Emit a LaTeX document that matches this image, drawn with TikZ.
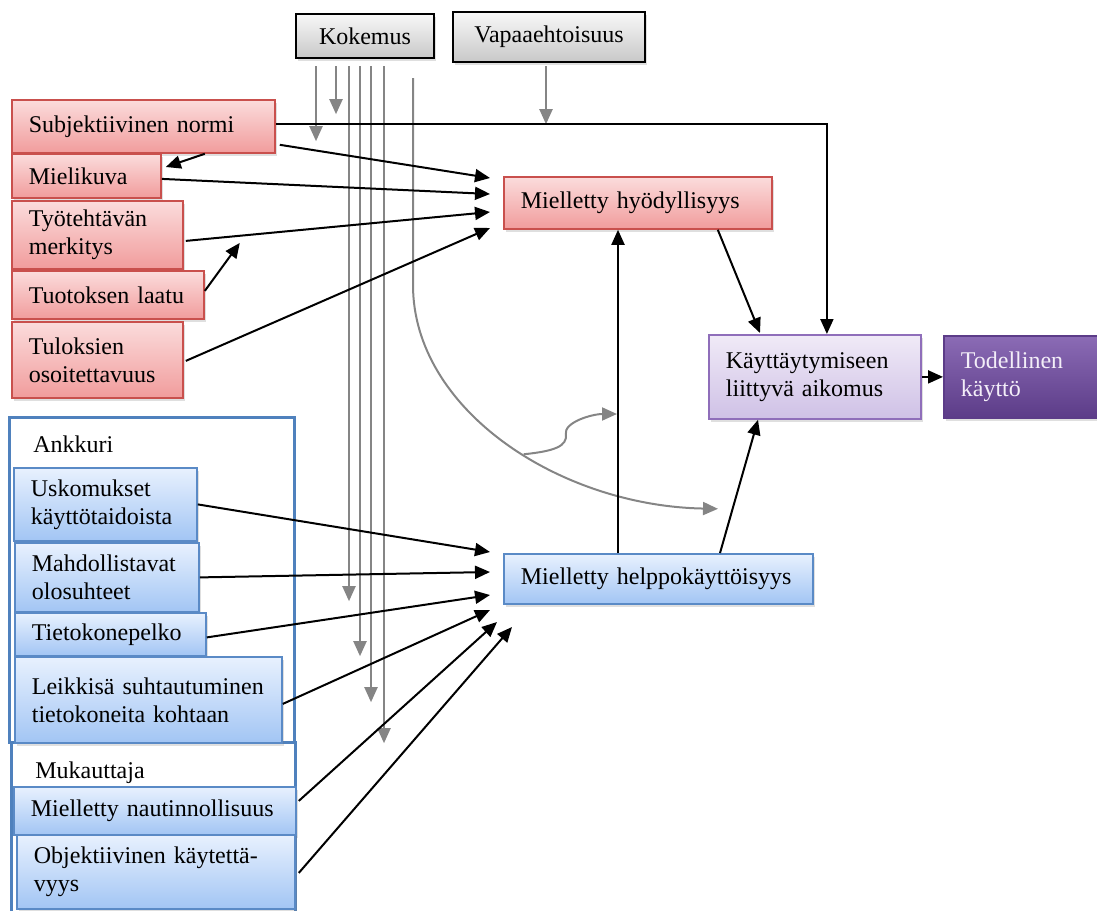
\documentclass[tikz,border=0pt]{standalone}
\usepackage{fontspec}
\setmainfont{Liberation Serif}
\usepackage{xcolor}
\usepackage{tikz}
\usetikzlibrary{arrows.meta,calc,shadows}
\definecolor{TamRedTop}{HTML}{FBDCDC}
\definecolor{TamRedBot}{HTML}{F19C9C}
\definecolor{TamRedEdge}{HTML}{C9504D}
\definecolor{TamGreyTop}{HTML}{F8F8F8}
\definecolor{TamGreyBot}{HTML}{C8C8C8}
\definecolor{TamBlueTop}{HTML}{E8F1FE}
\definecolor{TamBlueBot}{HTML}{A2C5F4}
\definecolor{TamBlueEdge}{HTML}{5A8AC6}
\definecolor{TamGroup}{HTML}{4F81BD}
\definecolor{TamLilacTop}{HTML}{F0EAF7}
\definecolor{TamLilacBot}{HTML}{CFC1E6}
\definecolor{TamLilacEdge}{HTML}{8F6EBA}
\definecolor{TamPlumTop}{HTML}{8B6BB5}
\definecolor{TamPlumBot}{HTML}{5C3C88}
\definecolor{TamPlumText}{HTML}{F3EEF8}
\definecolor{TamArrow}{HTML}{858585}

\begin{document}
\begin{tikzpicture}[x=0.5pt,y=-0.5pt,
  box/.style={rectangle,anchor=north west,align=left,inner xsep=8.5pt,
    inner ysep=0pt,line width=0.9pt,font=\fontsize{12}{14}\selectfont,
    drop shadow={opacity=0.25,shadow xshift=1pt,shadow yshift=-1.5pt}},
  redbox/.style={box,draw=TamRedEdge,top color=TamRedTop,bottom color=TamRedBot},
  bluebox/.style={box,draw=TamBlueEdge,top color=TamBlueTop,bottom color=TamBlueBot},
  lilacbox/.style={box,draw=TamLilacEdge,top color=TamLilacTop,bottom color=TamLilacBot},
  plumbox/.style={box,draw=TamPlumBot,top color=TamPlumTop,bottom color=TamPlumBot,
    text=TamPlumText},
  greybox/.style={box,anchor=center,align=center,draw=black,line width=1.2pt,
    top color=TamGreyTop,bottom color=TamGreyBot},
  grpframe/.style={draw=TamGroup,line width=1.5pt,fill=white},
  grplabel/.style={anchor=base west,inner sep=0pt,font=\fontsize{12}{14}\selectfont},
  blk/.style={-{Triangle[length=7.5pt,width=6.5pt]},line width=1pt},
  gry/.style={-{Triangle[length=7.5pt,width=6.5pt]},line width=1pt,TamArrow}]
  \useasboundingbox (0,0) rectangle (1097,910);

  % Top factors.
  \node[greybox,minimum width=69pt,minimum height=22pt] (kok) at (365,36) {Kokemus};
  \node[greybox,minimum width=96pt,minimum height=25pt] (vap) at (549,37) {Vapaaehtoisuus};

  % Group frames.
  \draw[grpframe] (9,417) rectangle (294,742);
  \node[grplabel] (ankl) at (33,452) {Ankkuri};
  \draw[grpframe] (11,742) rectangle (295,915);
  \node[grplabel] (mukl) at (35,778) {Mukauttaja};

  % Red factors.
  \node[redbox,text width=114.5pt,minimum height=26.5pt] (subj) at (11,99) {Subjektiivinen normi};
  \node[redbox,text width=57.5pt,minimum height=22pt] (miel) at (11,153) {Mielikuva};
  \node[redbox,text width=68.5pt,minimum height=34pt] (tyo) at (11,200) {Työtehtävän\\merkitys};
  \node[redbox,text width=79pt,minimum height=24pt] (tuot) at (11,270) {Tuotoksen laatu};
  \node[redbox,text width=68.5pt,minimum height=38pt] (tulos) at (11,321) {Tuloksien\\osoitettavuus};
  \node[redbox,text width=117pt,minimum height=26pt] (hyod) at (503,176) {Mielletty hyödyllisyys};

  % Intention and use.
  \node[lilacbox,text width=89pt,minimum height=42pt] (aik) at (708,334) {Käyttäytymiseen\\liittyvä aikomus};
  \node[plumbox,text width=61.5pt,minimum height=41pt] (tod) at (943,335) {Todellinen\\käyttö\vphantom{g}\\[-6pt]};

  % Blue factors.
  \node[bluebox,text width=74.5pt,minimum height=36.5pt] (usk) at (13,467) {Uskomukset\\käyttötaidoista};
  \node[bluebox,text width=75pt,minimum height=34.5pt] (mahd) at (14,542) {Mahdollistavat\\olosuhteet};
  \node[bluebox,text width=78.5pt,minimum height=21.5pt] (pelko) at (14,612) {Tietokonepelko};
  \node[bluebox,text width=116.5pt,minimum height=43pt] (leik) at (14,656) {Leikkisä suhtautuminen\\tietokoneita kohtaan};
  \node[bluebox,text width=124pt,minimum height=24pt] (naut) at (13,786) {Mielletty nautinnollisuus};
  \node[bluebox,text width=122pt,minimum height=37pt] (obj) at (16,834) {Objektiivinen käytettä-\\vyys};
  \node[bluebox,text width=137.5pt,minimum height=25pt] (help) at (503,553) {Mielletty helppokäyttöisyys};

  % Arrow ends.
  \coordinate (hy1) at ($(hyod.north west)+(-13,2)$);
  \coordinate (hy2) at ($(hyod.north west)+(-13,18)$);
  \coordinate (hy3) at ($(hyod.north west)+(-13,36)$);
  \coordinate (hy4) at ($(hyod.north west)+(-13,52)$);
  \coordinate (hp1) at ($(help.north west)+(-13,-1)$);
  \coordinate (hp2) at ($(help.north west)+(-13,19)$);
  \coordinate (hp3) at ($(help.north west)+(-13,42)$);
  \coordinate (hp4) at ($(help.north west)+(-13,57)$);
  \coordinate (hp5) at ($(help.north west)+(-6,69)$);
  \coordinate (hp6) at ($(help.north west)+(9,74)$);
  \coordinate (vin) at ($(vap.south)+(-3,61)$);
  \coordinate (cvend) at ($(aik.south west)+(10,89)$);
  \coordinate (cvtip) at (617,414);

  % Kokemus.
  \foreach \dx/\dy in {-49/82,-29/55,-16/542,-5/597,6/643,19/684}
    \draw[gry] ($(kok.south)+(\dx,7)$) -- ($(kok.south)+(\dx,\dy)$);
  \draw[gry] ($(kok.south)+(48,19)$) -- (413,285)
        .. controls (413,410) and (560,506) .. coordinate[pos=0.55] (cvsplit) (cvend);
  \draw[gry] (cvsplit) .. controls ++(30,-3) and ++(2,12) .. ++(42,-20)
        .. controls ++(-2,-12) and ++(-25,0) .. (cvtip);
  \draw[gry] ($(vap.south)+(-3,3)$) -- (vin);

  % Into Mielletty hyödyllisyys.
  \draw[blk] ($(subj.east)+(0,-2)$) -| ($(aik.north)+(12,0)$);
  \draw[blk] ($(subj.south east)+(-71,0)$) -- ($(miel.north east)+(4,14)$);
  \draw[blk] ($(subj.south east)+(4,-9)$) -- (hy1);
  \draw[blk] ($(miel.east)+(0,3)$) -- (hy2);
  \draw[blk] ($(tyo.east)+(2,6)$) -- (hy3);
  \draw[blk] ($(tuot.east)+(0,-4)$) -- ($(tyo.east)+(56,8)$);
  \draw[blk] ($(tulos.east)+(2,1)$) -- (hy4);

  % Into Mielletty helppokäyttöisyys.
  \draw[blk] (usk.east) -- (hp1);
  \draw[blk] (mahd.east) -- (hp2);
  \draw[blk] ($(pelko.east)+(0,3)$) -- (hp3);
  \draw[blk] ($(leik.east)+(0,4)$) -- (hp4);
  \draw[blk] ($(naut.east)+(2,-10)$) -- (hp5);
  \draw[blk] ($(obj.east)+(3,1)$) -- (hp6);

  % Towards use.
  \draw[blk] ($(help.north west)+(115,0)$) coordinate (hv) -- (hv |- hyod.south);
  \draw[blk] ($(help.north west)+(217,0)$) -- ($(aik.south west)+(50,0)$);
  \draw[blk] ($(hyod.south east)+(-55,0)$) -- ($(aik.north west)+(52,-1)$);
  \draw[blk] (aik.east) -- (tod.west);
\end{tikzpicture}
\end{document}
